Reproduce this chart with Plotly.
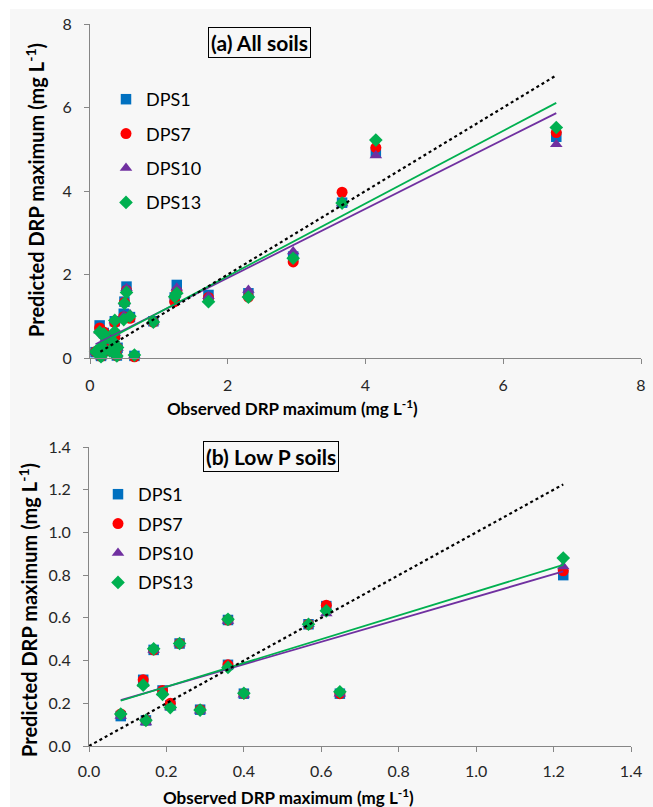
import numpy as np
import plotly.graph_objects as go

# ---------------- data ----------------
series_names = ["DPS1", "DPS7", "DPS10", "DPS13"]

# (a) All soils
all_obs = [0.13, 0.16, 0.14, 0.20, 0.36, 0.34, 0.39, 0.36, 0.49, 0.58, 0.50,
           0.53, 0.645, 0.92, 1.26, 1.23, 1.72, 2.30, 2.95, 3.66, 4.15, 6.77,
           0.08, 0.19, 0.21, 0.29, 0.23, 0.40]
all_dps1 = [0.15, 0.05, 0.78, 0.60, 0.55, 0.30, 0.06, 0.88, 1.06, 0.98, 1.35,
            1.71, 0.05, 0.88, 1.75, 1.45, 1.51, 1.55, 2.43, 3.72, 4.92, 5.30,
            0.14, 0.26, 0.19, 0.17, 0.48, 0.245]
all_dps7 = [0.12, 0.04, 0.72, 0.62, 0.50, 0.28, 0.05, 0.85, 0.99, 0.95, 1.33,
            1.62, 0.03, 0.86, 1.60, 1.35, 1.45, 1.46, 2.30, 3.97, 5.04, 5.40,
            0.15, 0.26, 0.20, 0.17, 0.48, 0.245]
all_dps10 = [0.10, 0.03, 0.65, 0.58, 0.60, 0.23, 0.06, 0.90, 1.02, 1.05, 1.35,
             1.67, 0.06, 0.87, 1.68, 1.50, 1.48, 1.63, 2.55, 3.70, 4.85, 5.12,
             0.14, 0.25, 0.18, 0.165, 0.48, 0.24]
all_dps13 = [0.19, 0.03, 0.62, 0.58, 0.63, 0.39, 0.05, 0.90, 0.92, 1.00, 1.31,
             1.57, 0.07, 0.86, 1.55, 1.47, 1.35, 1.46, 2.39, 3.71, 5.22, 5.52,
             0.15, 0.24, 0.18, 0.17, 0.48, 0.25]

# (b) Low P soils
low_obs = [0.082, 0.147, 0.14, 0.167, 0.19, 0.21, 0.234, 0.287, 0.359, 0.359,
           0.40, 0.567, 0.613, 0.648, 1.225]
low_dps1 = [0.14, 0.12, 0.31, 0.45, 0.26, 0.19, 0.48, 0.17, 0.59, 0.38,
            0.245, 0.57, 0.655, 0.245, 0.80]
low_dps7 = [0.15, 0.12, 0.31, 0.45, 0.26, 0.20, 0.48, 0.17, 0.59, 0.38,
            0.245, 0.57, 0.659, 0.245, 0.82]
low_dps10 = [0.14, 0.11, 0.29, 0.45, 0.25, 0.18, 0.48, 0.165, 0.585, 0.375,
             0.24, 0.57, 0.62, 0.245, 0.84]
low_dps13 = [0.15, 0.12, 0.285, 0.455, 0.242, 0.18, 0.48, 0.168, 0.593, 0.368,
             0.247, 0.57, 0.633, 0.254, 0.88]

x_ticks_a = [0, 2, 4, 6, 8]
y_ticks_a = [0, 2, 4, 6, 8]
ticks_b = [0.0, 0.2, 0.4, 0.6, 0.8, 1.0, 1.2, 1.4]

# ---------------- styles ----------------
colors = ["#0070C0", "#FF0000", "#7030A0", "#00B050"]
symbols = ["square", "circle", "triangle-up", "diamond"]
sizes = [10.5, 11, 11, 10.5]
W, H = 653, 807
FONT = "Lato"
BG = "#f7f7f7"

fig = go.Figure()

def add_panel(xs, ys_list, xa, ya, legend, one_to_one_start):
    for name, ys, c, s, sz in zip(series_names, ys_list, colors, symbols, sizes):
        fig.add_trace(go.Scatter(
            x=xs, y=ys, mode="markers", name=name,
            marker=dict(symbol=s, color=c, size=sz, line=dict(width=0)),
            xaxis=xa, yaxis=ya, legend=legend, legendgroup=legend + name,
            cliponaxis=False))
    # linear trendlines for DPS10 and DPS13
    xmin, xmax = min(xs), max(xs)
    for idx in (2, 3):
        k, b = np.polyfit(np.array(xs), np.array(ys_list[idx]), 1)
        fig.add_trace(go.Scatter(
            x=[xmin, xmax], y=[k * xmin + b, k * xmax + b], mode="lines",
            line=dict(color=colors[idx], width=1.8), showlegend=False,
            xaxis=xa, yaxis=ya, hoverinfo="skip"))
    # 1:1 line
    s0 = one_to_one_start if one_to_one_start is not None else xmin
    fig.add_trace(go.Scatter(
        x=[s0, xmax], y=[s0, xmax], mode="lines",
        line=dict(color="black", width=2.2, dash="dot"), showlegend=False,
        xaxis=xa, yaxis=ya, hoverinfo="skip"))

add_panel(all_obs, [all_dps1, all_dps7, all_dps10, all_dps13], "x", "y", "legend", 0.15)
add_panel(low_obs, [low_dps1, low_dps7, low_dps10, low_dps13], "x2", "y2", "legend2", 0.0)

axis_common = dict(
    showgrid=False, zeroline=False, showline=True, linecolor="#868686", linewidth=1,
    ticks="outside", ticklen=5, tickcolor="#868686", automargin=False,
    tickfont=dict(family=FONT, size=16, color="#262626"),
    fixedrange=True,
)

def fx(px):
    return px / W

def fy(py):
    return 1 - py / H

fig.update_layout(
    width=W, height=H,
    margin=dict(l=0, r=0, t=0, b=0, autoexpand=False),
    paper_bgcolor=BG, plot_bgcolor=BG,
    xaxis=dict(domain=[fx(90), fx(641)], range=[0, 8], tickvals=x_ticks_a,
               anchor="y", ticklabelstandoff=8, **axis_common),
    yaxis=dict(domain=[fy(358), fy(24)], range=[0, 8], tickvals=y_ticks_a,
               anchor="x", ticklabelstandoff=9, **axis_common),
    xaxis2=dict(domain=[fx(89), fx(631)], range=[0, 1.4], tickvals=ticks_b,
                tickformat=".1f", anchor="y2", ticklabelstandoff=6, **axis_common),
    yaxis2=dict(domain=[fy(746), fy(447)], range=[0, 1.4], tickvals=ticks_b,
                tickformat=".1f", anchor="x2", ticklabelstandoff=9, **axis_common),
    legend=dict(x=fx(106), y=fy(81), xanchor="left", yanchor="top",
                bgcolor="rgba(0,0,0,0)", font=dict(family=FONT, size=18, color="black"),
                tracegroupgap=8, itemwidth=30),
    legend2=dict(x=fx(98), y=fy(476), xanchor="left", yanchor="top",
                 bgcolor="rgba(0,0,0,0)", font=dict(family=FONT, size=18, color="black"),
                 tracegroupgap=3, itemwidth=30),
    showlegend=True,
)

# white strips on the top and left edges of the picture
fig.add_shape(type="rect", xref="paper", yref="paper", x0=0, x1=1, y0=fy(9), y1=1,
              fillcolor="white", line=dict(width=0), layer="below")
fig.add_shape(type="rect", xref="paper", yref="paper", x0=0, x1=fx(10), y0=0, y1=1,
              fillcolor="white", line=dict(width=0), layer="below")

ann = []
# panel titles in boxes
ann.append(dict(text="<b>(a) All soils</b>", x=fx(259), y=fy(42.5), xref="paper", yref="paper",
                showarrow=False, font=dict(family=FONT, size=21, color="black"),
                bordercolor="black", borderwidth=1, borderpad=2, xanchor="center", yanchor="middle"))
ann.append(dict(text="<b>(b) Low P soils</b>", x=fx(271), y=fy(456.5), xref="paper", yref="paper",
                showarrow=False, font=dict(family=FONT, size=21, color="black"),
                bordercolor="black", borderwidth=1, borderpad=2, xanchor="center", yanchor="middle"))
# axis titles
xt = "<b>Observed DRP maximum (mg L<sup>-1</sup>)</b>"
yt = "<b>Predicted DRP maximum (mg L<sup>-1</sup>)</b>"
ann.append(dict(text=xt, x=fx(292), y=fy(407), xref="paper", yref="paper", showarrow=False,
                font=dict(family=FONT, size=17, color="black"), xanchor="center", yanchor="middle"))
ann.append(dict(text=xt, x=fx(288), y=fy(796), xref="paper", yref="paper", showarrow=False,
                font=dict(family=FONT, size=17, color="black"), xanchor="center", yanchor="middle"))
ann.append(dict(text=yt, x=fx(35), y=fy(190), xref="paper", yref="paper", showarrow=False,
                textangle=-90, font=dict(family=FONT, size=20, color="black"),
                xanchor="center", yanchor="middle"))
ann.append(dict(text=yt, x=fx(28), y=fy(610), xref="paper", yref="paper", showarrow=False,
                textangle=-90, font=dict(family=FONT, size=20, color="black"),
                xanchor="center", yanchor="middle"))
fig.update_layout(annotations=ann)

fig.write_html("out.html")
